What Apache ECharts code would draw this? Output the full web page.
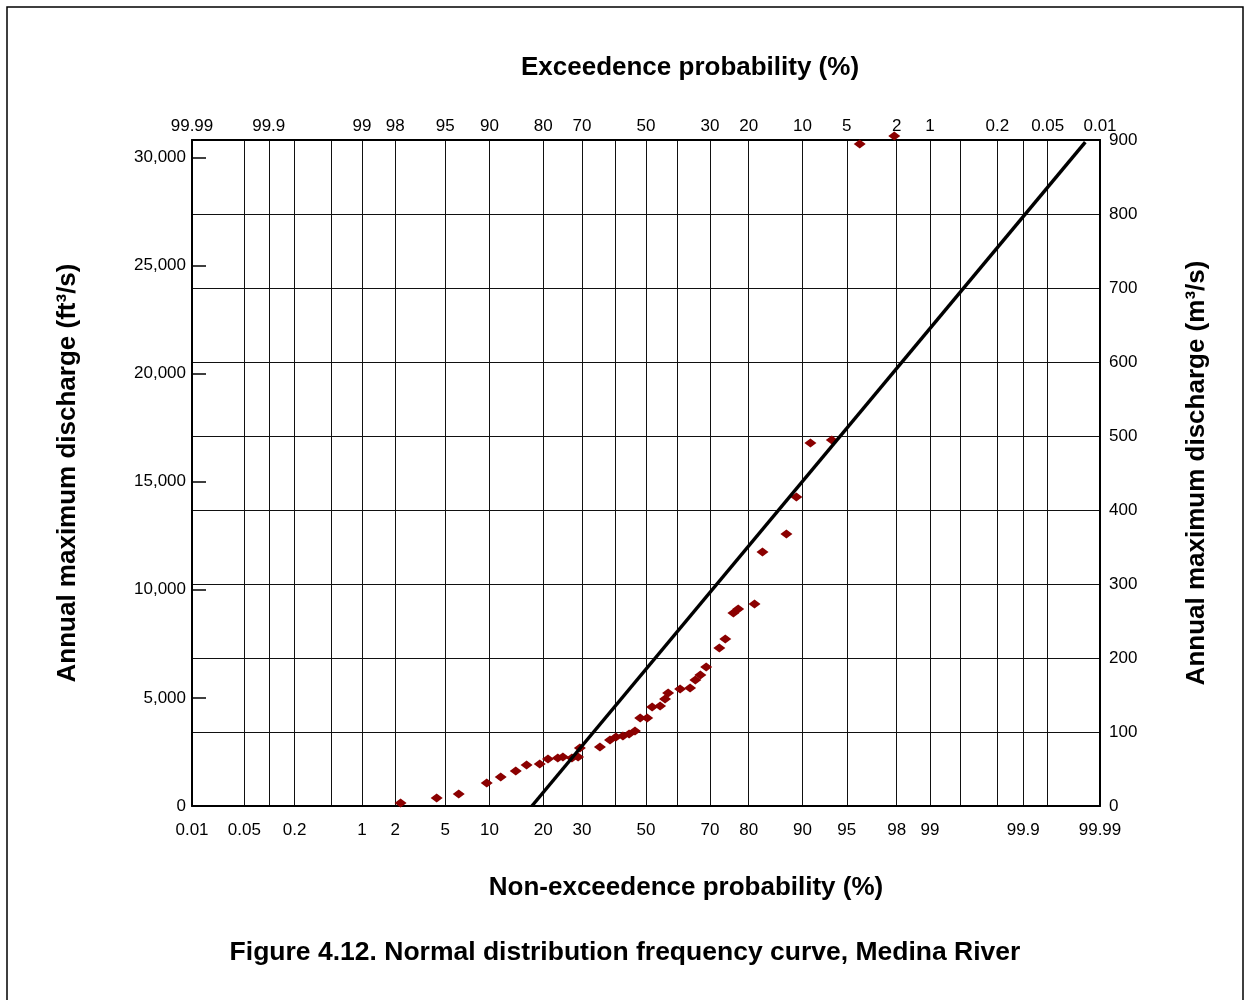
<!DOCTYPE html>
<html>
<head>
<meta charset="utf-8">
<title>Normal distribution frequency curve, Medina River</title>
<script src="https://cdn.jsdelivr.net/npm/echarts@6/dist/echarts.min.js"></script>
<style>
  html, body { margin: 0; padding: 0; background: #fff; }
  #chart { width: 1250px; height: 1000px; }
</style>
</head>
<body>
<div id="chart"></div>
<script>
// tick labels (percent)
const bottomTicks = [0.01, 0.05, 0.2, 1, 2, 5, 10, 20, 30, 50, 70, 80, 90, 95, 98, 99, 99.9, 99.99];
const topTicks = [99.99, 99.9, 99, 98, 95, 90, 80, 70, 50, 30, 20, 10, 5, 2, 1, 0.2, 0.05, 0.01];
// vertical grid lines, non-exceedance probability (%)
const gridProbs = [0.05, 0.1, 0.2, 0.5, 1, 2, 5, 10, 20, 30, 40, 50, 60, 70, 80, 90, 95, 98, 99, 99.5, 99.8, 99.9, 99.95];
const leftTicks = [0, 5000, 10000, 15000, 20000, 25000, 30000];

// observed annual maxima: non-exceedance probability (%) and discharge (ft3/s)
const obsProb = [2.22, 4.32, 6.25, 9.6, 11.7, 14.3, 16.4, 19.2, 21.1, 23.5, 24.8, 27.2, 28.9, 29.4, 35.3,
  38.4, 40.3, 42.5, 44.5, 46.4, 48.1, 50.4, 52.0, 54.6, 56.2, 57.2, 61.0, 64.1, 65.7, 67.2, 68.9,
  72.6, 74.2, 76.3, 77.5, 81.3, 83.0, 87.5, 89.1, 91.1, 93.6, 96.0, 97.9];
const obsFlow = [140, 370, 555, 1060, 1340, 1620, 1900, 1940, 2170, 2220, 2270, 2220, 2270, 2680, 2730,
  3050, 3190, 3240, 3330, 3470, 4070, 4070, 4580, 4630, 4950, 5230, 5410, 5460, 5830, 6060, 6430,
  7310, 7720, 8930, 9110, 9340, 11750, 12580, 14290, 16790, 16930, 30620, 30990];

// fitted normal line, end points
const fitProb = [17.5, 99.984];
const fitFlow = [0, 30700];

// inverse standard normal (Acklam)
function normInv(p) {
  const a = [-3.969683028665376e+01, 2.209460984245205e+02, -2.759285104469687e+02, 1.383577518672690e+02, -3.066479806614716e+01, 2.506628277459239e+00];
  const b = [-5.447609879822406e+01, 1.615858368580409e+02, -1.556989798598866e+02, 6.680131188771972e+01, -1.328068155288572e+01];
  const c = [-7.784894002430293e-03, -3.223964580411365e-01, -2.400758277161838e+00, -2.549732539343734e+00, 4.374664141464968e+00, 2.938163982698783e+00];
  const d = [7.784695709041462e-03, 3.224671290700398e-01, 2.445134137142996e+00, 3.754408661907416e+00];
  const pl = 0.02425;
  let q, r;
  if (p < pl) {
    q = Math.sqrt(-2 * Math.log(p));
    return (((((c[0] * q + c[1]) * q + c[2]) * q + c[3]) * q + c[4]) * q + c[5]) / ((((d[0] * q + d[1]) * q + d[2]) * q + d[3]) * q + 1);
  }
  if (p <= 1 - pl) {
    q = p - 0.5; r = q * q;
    return (((((a[0] * r + a[1]) * r + a[2]) * r + a[3]) * r + a[4]) * r + a[5]) * q / (((((b[0] * r + b[1]) * r + b[2]) * r + b[3]) * r + b[4]) * r + 1);
  }
  q = Math.sqrt(-2 * Math.log(1 - p));
  return -(((((c[0] * q + c[1]) * q + c[2]) * q + c[3]) * q + c[4]) * q + c[5]) / ((((d[0] * q + d[1]) * q + d[2]) * q + d[3]) * q + 1);
}

const zMin = normInv(0.0001);
const zMax = normInv(0.9999);
const clampZ = z => Math.min(zMax, Math.max(zMin, z));
const zOf = pct => clampZ(normInv(pct / 100));

const bottomZ = bottomTicks.map(zOf);
const topZ = topTicks.map(e => zOf(100 - e));
const gridZ = gridProbs.map(zOf);

function nearestLabel(zs, labels) {
  return function (value) {
    let best = 0;
    for (let i = 1; i < zs.length; i++) {
      if (Math.abs(zs[i] - value) < Math.abs(zs[best] - value)) best = i;
    }
    return String(labels[best]);
  };
}

const font = 'Arial, "Liberation Sans", Helvetica, sans-serif';
const nameStyle = { fontSize: 26, fontWeight: 'bold', color: '#000', fontFamily: font };
const labelStyle = { fontSize: 17, color: '#000', fontFamily: font };

const option = {
  animation: false,
  backgroundColor: '#fff',
  title: {
    text: 'Figure 4.12. Normal distribution frequency curve, Medina River',
    left: 'center',
    top: 934,
    textStyle: Object.assign({}, nameStyle, { fontSize: 26.5 })
  },
  graphic: [{
    type: 'rect',
    shape: { x: 7, y: 7, width: 1236, height: 1010 },
    style: { fill: 'none', stroke: '#000', lineWidth: 1.5 },
    silent: true
  }],
  grid: { left: 192, right: 150, top: 140, bottom: 194 },
  xAxis: [
    {
      type: 'value',
      position: 'bottom',
      min: zMin,
      max: zMax,
      name: 'Non-exceedence probability (%)',
      nameLocation: 'middle',
      nameGap: 69,
      nameTextStyle: Object.assign({ padding: [0, 0, 0, 80] }, nameStyle),
      axisLine: { show: true, onZero: false, lineStyle: { color: '#000', width: 2 } },
      axisTick: { show: false, customValues: gridZ },
      splitLine: { show: true, lineStyle: { color: '#111', width: 1 } },
      axisLabel: Object.assign({ customValues: bottomZ, margin: 16, formatter: nearestLabel(bottomZ, bottomTicks) }, labelStyle)
    },
    {
      type: 'value',
      position: 'top',
      min: zMin,
      max: zMax,
      name: 'Exceedence probability (%)',
      nameLocation: 'middle',
      nameGap: 59,
      nameTextStyle: Object.assign({ padding: [0, 0, 0, 88] }, nameStyle),
      axisLine: { show: true, onZero: false, lineStyle: { color: '#000', width: 2 } },
      axisTick: { show: false, customValues: topZ },
      splitLine: { show: false },
      axisLabel: Object.assign({ customValues: topZ, margin: 5, formatter: nearestLabel(topZ, topTicks) }, labelStyle)
    }
  ],
  yAxis: [
    {
      type: 'value',
      position: 'left',
      min: 0,
      max: 30800,
      name: 'Annual maximum discharge (ft³/s)',
      nameLocation: 'middle',
      nameGap: 111,
      nameTextStyle: nameStyle,
      axisLine: { show: true, onZero: false, lineStyle: { color: '#000', width: 2 } },
      axisTick: { show: true, inside: true, length: 14, customValues: leftTicks, lineStyle: { color: '#000', width: 1.5 } },
      splitLine: { show: false },
      axisLabel: Object.assign({
        customValues: leftTicks,
        margin: 6,
        formatter: v => v.toLocaleString('en-US')
      }, labelStyle)
    },
    {
      type: 'value',
      position: 'right',
      min: 0,
      max: 900,
      interval: 100,
      name: 'Annual maximum discharge (m³/s)',
      nameLocation: 'middle',
      nameGap: 84,
      nameTextStyle: nameStyle,
      axisLine: { show: true, onZero: false, lineStyle: { color: '#000', width: 2 } },
      axisTick: { show: false },
      splitLine: { show: true, lineStyle: { color: '#111', width: 1 } },
      axisLabel: Object.assign({ margin: 9 }, labelStyle)
    }
  ],
  series: [
    {
      name: 'Observed',
      type: 'scatter',
      xAxisIndex: 0,
      yAxisIndex: 0,
      clip: false,
      symbol: 'diamond',
      symbolSize: [12, 9],
      itemStyle: { color: '#8b0000', opacity: 1 },
      data: obsProb.map((p, i) => [normInv(p / 100), obsFlow[i]]),
      z: 3
    },
    {
      name: 'Normal fit',
      type: 'line',
      xAxisIndex: 0,
      yAxisIndex: 0,
      symbol: 'none',
      lineStyle: { color: '#000', width: 3.5 },
      data: fitProb.map((p, i) => [normInv(p / 100), fitFlow[i]]),
      z: 4
    }
  ]
};

const chart = echarts.init(document.getElementById('chart'));
chart.setOption(option);
</script>
</body>
</html>
